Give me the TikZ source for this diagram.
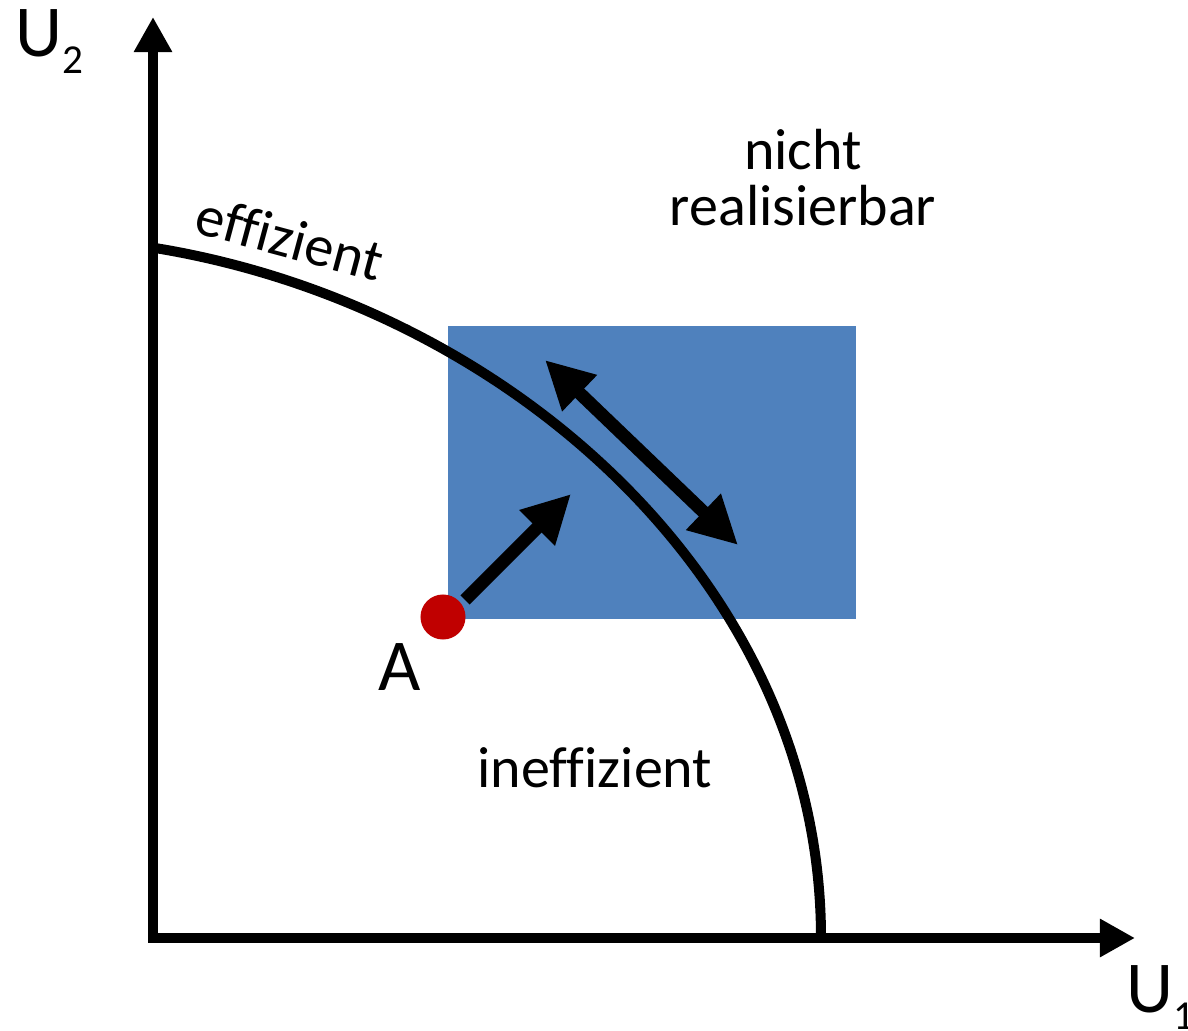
\documentclass[tikz,border=0pt]{standalone}
\usepackage{fontspec}
\setmainfont{Carlito}[Ligatures=NoCommon]
\usepackage{tikz}
\usetikzlibrary{arrows.meta,positioning}
\definecolor{boxblue}{HTML}{4F81BD}
\definecolor{dotred}{HTML}{C00000}
\newcommand{\lbtxt}{\fontsize{16.5}{16}\selectfont}
\newcommand{\lbbig}{\fontsize{20.8}{22}\selectfont}

\begin{document}
\begin{tikzpicture}[x=0.01cm,y=-0.01cm,
      ax/.style={line width=1mm,-{Triangle[length=3.5mm,width=3.6mm]}},
      ar/.style={line width=1.3mm,{Triangle[length=4.8mm,width=4.7mm]}-{Triangle[length=4.8mm,width=4.7mm]}},
      arr/.style={line width=1.3mm,-{Triangle[length=4.8mm,width=4.7mm]}},
      dt/.style={circle,fill=dotred,inner sep=0pt,minimum size=4.5mm},
      lb/.style={inner sep=0pt,font=\lbtxt}]
    \useasboundingbox (0,0) rectangle (1188,1031);

    % ================= feasible box =================
    \fill[boxblue] (448,326) rectangle (856,619);

    % ================= axes =================
    \coordinate (oy) at (153,942);
    \coordinate (ox) at (148,938);
    \coordinate (ytip) at (153,17);
    \coordinate (xtip) at (1135,938);
    \draw[ax] (oy) -- (ytip);
    \draw[ax] (ox) -- (xtip);
    \node[anchor=base west,inner sep=0pt,font=\lbbig] (u2) at (15,57)
      {U\raisebox{-0.17cm}{\fontsize{11.7}{12}\selectfont 2}};
    \node[anchor=base west,inner sep=0pt,font=\lbbig] (u1) at (1126,1012)
      {U\raisebox{-0.17cm}{\fontsize{11.7}{12}\selectfont 1}};

    % ================= frontier =================
    \draw[line width=1mm]
      (155,248) .. controls (510,306) and (821,585) .. (821,938);
    \node[lb,rotate=-15] (eff) at (290,238) {effizient};
    \node[lb,anchor=base] (ineff) at (595,787) {ineffizient};
    \node[lb,anchor=base,align=center] (nr) at (803,226)
      {nicht\\realisierbar};

    % ================= point A and moves =================
    \node[dt] (A) at (443,617) {};
    \node[anchor=base,inner sep=0pt,font=\lbbig] (lA) at (400,690) {A};
    \coordinate (a0) at (465,600);
    \coordinate (a1) at (571,494);
    \draw[arr] (a0) -- (a1);
    \coordinate (b0) at (545,360);
    \coordinate (b1) at (738,545);
    \draw[ar] (b0) -- (b1);
  \end{tikzpicture}
\end{document}
